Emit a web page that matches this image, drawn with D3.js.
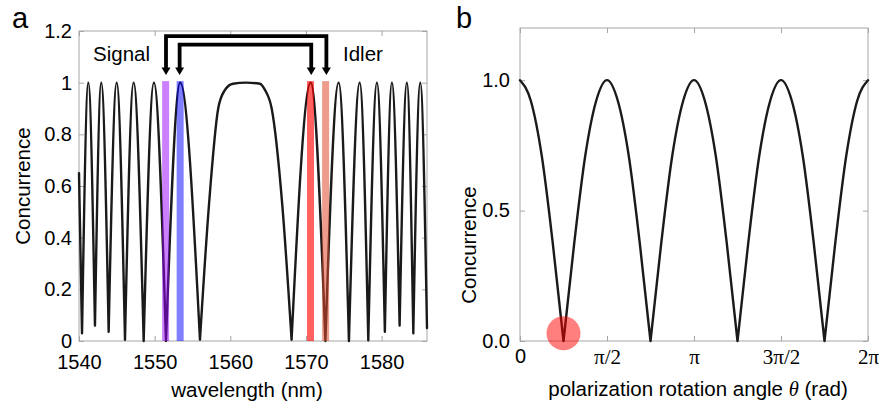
<!DOCTYPE html>
<html>
<head>
<meta charset="utf-8">
<script src="https://cdn.jsdelivr.net/npm/d3@7"></script>
<style>
  body { margin: 0; background: #fff; }
  svg { display: block; font-family: 'Liberation Sans', Arial, sans-serif; }
</style>
</head>
<body>
<div id="chart"></div>
<script>
// ---- panel a: concurrence vs wavelength (key points)
const wavelengthA = [
  1540, 1540.40, 1541.23, 1542.11, 1542.94, 1543.92, 1544.98, 1546.08,
  1547.22, 1548.55, 1549.90, 1551.50, 1553.37, 1555.99,
  1557.18, 1558.40, 1559.30, 1560.35, 1562.10, 1563.92, 1564.58, 1565.47, 1566.87,
  1568.10, 1570.63, 1572.57, 1574.32, 1575.68, 1577.10, 1578.24, 1579.38,
  1580.43, 1581.36, 1582.38, 1583.34, 1584.19, 1585.11, 1586
];
const concurrenceA = [
  0.65, 0.03, 1, 0.06, 1, 0.036, 1, 0.005,
  1, 0, 1, 0, 1, 0.005,
  0.527, 0.90, 0.972, 0.996, 1, 0.996, 0.972, 0.90, 0.527,
  0.005, 1, 0, 1, 0, 1, 0.003, 1,
  0.036, 1, 0.06, 1, 0.03, 1, 0.05
];
const xTicksA = [1540, 1550, 1560, 1570, 1580];
const yTicksA = [0, 0.2, 0.4, 0.6, 0.8, 1, 1.2];
const yTickLabelsA = ['0', '0.2', '0.4', '0.6', '0.8', '1', '1.2'];

// selected channels: signal pair / idler pair
const bandWavelengths = [1551.45, 1553.37, 1570.6, 1572.6];
const channelPairs = [[1551.5, 1572.7], [1553.3, 1570.7]];

// ---- panel b: concurrence vs polarization rotation angle (theta in units of pi)
const thetaB = [
  0, 0.0625, 0.125, 0.1875, 0.25, 0.3125, 0.375, 0.4375,
  0.5, 0.5625, 0.625, 0.6875, 0.75, 0.8125, 0.875, 0.9375,
  1, 1.0625, 1.125, 1.1875, 1.25, 1.3125, 1.375, 1.4375,
  1.5, 1.5625, 1.625, 1.6875, 1.75, 1.8125, 1.875, 1.9375, 2
];
const concurrenceB = [
  1, 0.92, 0.71, 0.38, 0, 0.38, 0.71, 0.92,
  1, 0.92, 0.71, 0.38, 0, 0.38, 0.71, 0.92,
  1, 0.92, 0.71, 0.38, 0, 0.38, 0.71, 0.92,
  1, 0.92, 0.71, 0.38, 0, 0.38, 0.71, 0.92, 1
];
const xTicksB = [0, 0.5, 1, 1.5, 2];
const xTickLabelsB = ['0', 'π/2', 'π', '3π/2', '2π'];
const yTicksB = [0, 0.5, 1];
const yTickLabelsB = ['0.0', '0.5', '1.0'];
const markedPoint = [0.25, 0.03];

// styles
const bandColors = ['#9900ff', '#0000ff', '#ff0000', '#e04a2e'];
const bandOpacity = [0.5, 0.5, 0.62, 0.55];
const frameColor = '#a6a6a6';
const curveColor = '#1a1a1a';

const svg = d3.select('#chart')
  .append('svg')
  .attr('width', 879)
  .attr('height', 410);

// split a curve into arcs at its local minima so the dips stay sharp
function splitArcs(xs, ys) {
  const pts = xs.map((x, i) => [x, ys[i]]);
  const arcs = [];
  let cur = [pts[0]];
  for (let i = 1; i < pts.length; i++) {
    cur.push(pts[i]);
    const isMin = i < pts.length - 1 && pts[i][1] < pts[i - 1][1] && pts[i][1] < pts[i + 1][1];
    if (isMin) {
      arcs.push(cur);
      cur = [pts[i]];
    }
  }
  if (cur.length > 1) arcs.push(cur);
  return arcs;
}

function drawFrame(g, x, y, opts) {
  const [x0, x1] = x.range();
  const [y0, y1] = y.range();
  const h = y0 - y1;

  const bottom = g.append('g')
    .attr('transform', `translate(0,${y0})`)
    .call(d3.axisBottom(x).tickValues(opts.xTicks).tickSizeInner(-5).tickSizeOuter(0)
      .tickPadding(opts.xPad).tickFormat((d, i) => opts.xLabels[i]));
  const top = g.append('g')
    .attr('transform', `translate(0,${y1})`)
    .call(d3.axisTop(x).tickValues(opts.xTicks).tickSizeInner(-5).tickSizeOuter(0).tickFormat(''));
  const left = g.append('g')
    .attr('transform', `translate(${x0},0)`)
    .call(d3.axisLeft(y).tickValues(opts.yTicks).tickSizeInner(-5).tickSizeOuter(0)
      .tickPadding(opts.yPad).tickFormat((d, i) => opts.yLabels[i]));
  const right = g.append('g')
    .attr('transform', `translate(${x1},0)`)
    .call(d3.axisRight(y).tickValues(opts.yTicks).tickSizeInner(-5).tickSizeOuter(0).tickFormat(''));

  [bottom, top, left, right].forEach(a => {
    a.select('.domain').remove();
    a.selectAll('line').attr('stroke', frameColor);
    a.selectAll('text').attr('fill', '#000').style('font-size', '20px')
      .style('font-family', "'Liberation Sans', Arial, sans-serif");
  });

  g.append('rect')
    .attr('x', x0).attr('y', y1)
    .attr('width', x1 - x0).attr('height', h)
    .attr('fill', 'none')
    .attr('stroke', frameColor)
    .attr('stroke-width', 1);

  return { bottom, left };
}

// ---------------- panel a
const xA = d3.scaleLinear().domain([1540, 1586]).range([79, 427]);
const yA = d3.scaleLinear().domain([0, 1.2]).range([341, 31]);
const gA = svg.append('g');

drawFrame(gA, xA, yA, {
  xTicks: xTicksA, xLabels: xTicksA.map(String), xPad: 14,
  yTicks: yTicksA, yLabels: yTickLabelsA, yPad: 7,
});

const lineA = d3.line()
  .x(d => xA(d[0]))
  .y(d => yA(d[1]))
  .curve(d3.curveMonotoneX);

gA.append('path')
  .attr('d', splitArcs(wavelengthA, concurrenceA).map(lineA).join(''))
  .attr('fill', 'none')
  .attr('stroke', curveColor)
  .attr('stroke-width', 2.4)
  .attr('stroke-linecap', 'round');

gA.selectAll('.band')
  .data(bandWavelengths)
  .enter()
  .append('rect')
  .attr('class', 'band')
  .attr('x', d => xA(d) - 3.5)
  .attr('y', yA(1.006))
  .attr('width', 7)
  .attr('height', yA(0) - yA(1.006))
  .attr('fill', (d, i) => bandColors[i])
  .attr('opacity', (d, i) => bandOpacity[i]);

// brackets linking signal and idler channels
const bracketTops = [1.18, 1.147];
const tipY = yA(1.03);
channelPairs.forEach((p, i) => {
  const xl = xA(p[0]);
  const xr = xA(p[1]);
  const yt = yA(bracketTops[i]);
  gA.append('path')
    .attr('d', `M${xl},${tipY - 6}V${yt}H${xr}V${tipY - 6}`)
    .attr('fill', 'none')
    .attr('stroke', '#000')
    .attr('stroke-width', 3.8)
    .attr('stroke-linejoin', 'miter');
  [xl, xr].forEach(xx => {
    gA.append('path')
      .attr('d', `M${xx - 4.5},${tipY - 7.5}L${xx + 4.5},${tipY - 7.5}L${xx},${tipY}Z`)
      .attr('fill', '#000');
  });
});

gA.append('text').attr('x', 93).attr('y', 61).style('font-size', '20.5px').text('Signal');
gA.append('text').attr('x', 343).attr('y', 61).style('font-size', '20.5px').text('Idler');

gA.append('text')
  .attr('transform', 'translate(30,186) rotate(-90)')
  .attr('text-anchor', 'middle')
  .style('font-size', '20.5px')
  .text('Concurrence');

gA.append('text')
  .attr('x', 247).attr('y', 397)
  .attr('text-anchor', 'middle')
  .style('font-size', '20.5px')
  .text('wavelength (nm)');

svg.append('text').attr('x', 12).attr('y', 28).style('font-size', '29px').text('a');

// ---------------- panel b
const xB = d3.scaleLinear().domain([0, 2]).range([520, 868]);
const yB = d3.scaleLinear().domain([0, 1.2]).range([341, 28]);
const gB = svg.append('g');

const axesB = drawFrame(gB, xB, yB, {
  xTicks: xTicksB, xLabels: xTickLabelsB, xPad: 8,
  yTicks: yTicksB, yLabels: yTickLabelsB, yPad: 10,
});
axesB.bottom.selectAll('text')
  .filter(function () { return this.textContent.includes('π'); })
  .style('font-family', "'Liberation Serif', 'Times New Roman', serif")
  .style('font-size', '21px');

const lineB = d3.line()
  .x(d => xB(d[0]))
  .y(d => yB(d[1]))
  .curve(d3.curveMonotoneX);

gB.append('path')
  .attr('d', splitArcs(thetaB, concurrenceB).map(lineB).join(''))
  .attr('fill', 'none')
  .attr('stroke', curveColor)
  .attr('stroke-width', 2.4)
  .attr('stroke-linecap', 'round');

gB.append('circle')
  .attr('cx', xB(markedPoint[0]))
  .attr('cy', yB(markedPoint[1]))
  .attr('r', 17)
  .attr('fill', '#ff0000')
  .attr('opacity', 0.5);

gB.append('text')
  .attr('transform', 'translate(476,245) rotate(-90)')
  .attr('text-anchor', 'middle')
  .style('font-size', '20.5px')
  .text('Concurrence');

const xLabelB = gB.append('text')
  .attr('x', 698).attr('y', 396)
  .attr('text-anchor', 'middle')
  .style('font-size', '20.5px');
xLabelB.append('tspan').text('polarization rotation angle ');
xLabelB.append('tspan')
  .style('font-family', "'Liberation Serif', 'Times New Roman', serif")
  .style('font-style', 'italic')
  .text('θ');
xLabelB.append('tspan').text(' (rad)');

svg.append('text').attr('x', 456).attr('y', 28).style('font-size', '29px').text('b');
</script>
</body>
</html>
